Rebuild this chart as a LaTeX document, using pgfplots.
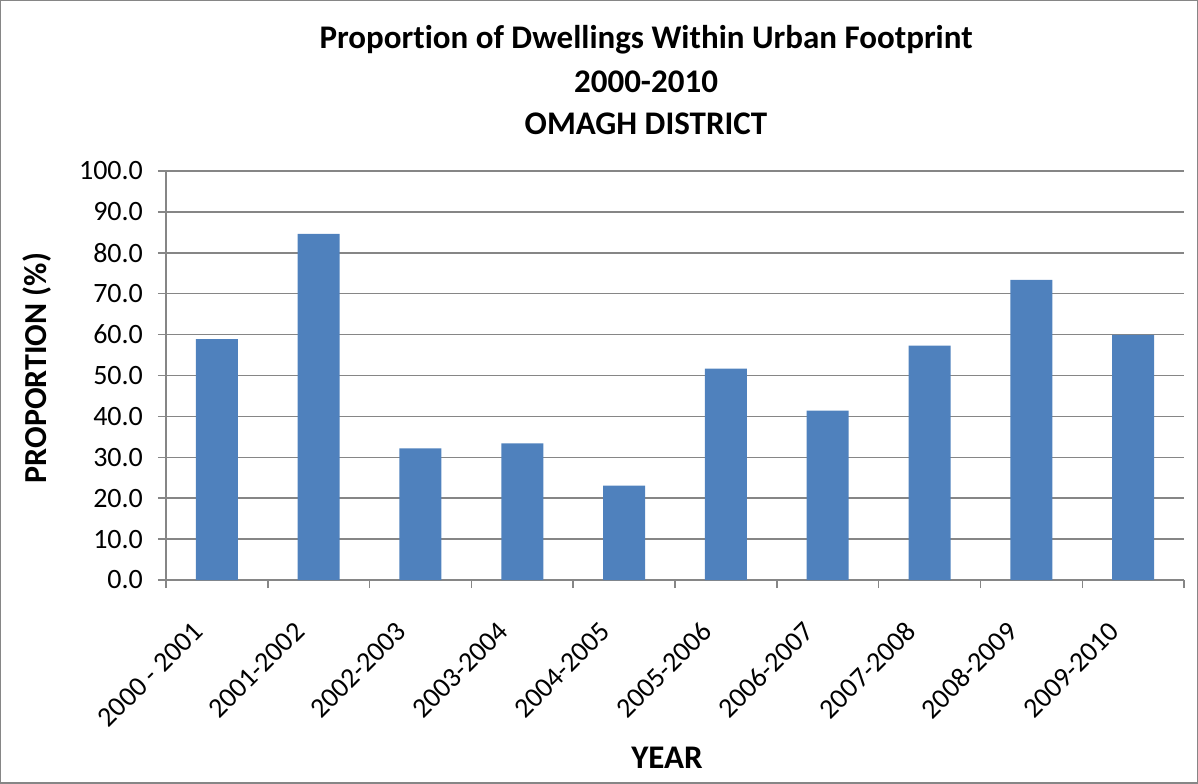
\documentclass[border=0pt]{standalone}
\usepackage{fontspec}
\setmainfont{Carlito}[Ligatures=NoCommon]
\usepackage{pgfplots}
\pgfplotsset{compat=1.18}

\definecolor{barblue}{RGB}{79,129,189}
\definecolor{gridgray}{RGB}{134,134,134}

\begin{document}
\begin{tikzpicture}
  % outer chart frame (1 px = 0.5pt)
  \draw[draw=gridgray, line width=0.75pt] (0.4pt,0.4pt) rectangle (598.6pt,391.6pt);
  \begin{axis}[
    at={(83pt,102pt)}, anchor=south west,
    scale only axis,
    width=509pt, height=204.5pt,
    xmin=-0.5, xmax=9.5,
    ymin=0, ymax=100,
    ytick distance=10,
    xtick={0,...,9},
    xticklabels={2000 - 2001,2001-2002,2002-2003,2003-2004,2004-2005,2005-2006,2006-2007,2007-2008,2008-2009,2009-2010},
    minor xtick={-0.5,0.5,...,9.5},
    major x tick style={draw=none},
    tick align=outside,
    major tick length=4pt, minor tick length=4pt,
    tick style={draw=gridgray, line width=0.75pt},
    axis x line*=bottom, axis y line*=left,
    axis line style={draw=gridgray, line width=0.75pt, -},
    ymajorgrids,
    grid style={draw=gridgray, line width=0.75pt},
    /pgf/number format/assume math mode=true,
    yticklabel style={/pgf/number format/fixed, /pgf/number format/fixed zerofill, /pgf/number format/precision=1, font=\fontsize{14}{16}\selectfont, xshift=-4pt},
    xticklabel style={font=\fontsize{14}{16}\selectfont, xshift=-7pt, yshift=-17pt, rotate=45, anchor=east},
    ybar, bar width=21pt,
  ]
    \addplot[fill=barblue, draw=none] coordinates {
      (0,58.9) (1,84.6) (2,32.2) (3,33.4) (4,23.1)
      (5,51.7) (6,41.4) (7,57.3) (8,73.4) (9,59.9)
    };
  \end{axis}
  % titles and axis labels
  \node[font=\bfseries\fontsize{16.5}{18}\selectfont] at (323pt,372pt) {Proportion of Dwellings Within Urban Footprint};
  \node[font=\bfseries\fontsize{16.5}{18}\selectfont] at (323pt,351pt) {2000-2010};
  \node[font=\bfseries\fontsize{16.5}{18}\selectfont] at (323pt,330pt) {OMAGH DISTRICT};
  \node[font=\bfseries\fontsize{16}{18}\selectfont, rotate=90] at (18.5pt,208pt) {PROPORTION (\%)};
  \node[font=\bfseries\fontsize{16.5}{18}\selectfont] at (333.5pt,13pt) {YEAR};
\end{tikzpicture}
\end{document}
